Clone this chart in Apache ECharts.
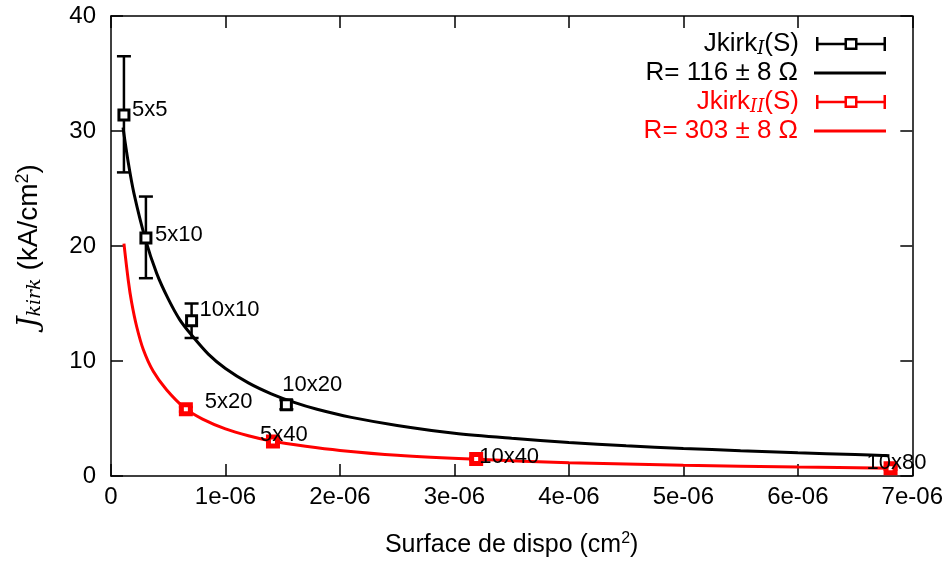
<!DOCTYPE html>
<html>
<head>
<meta charset="utf-8">
<script src="https://cdn.jsdelivr.net/npm/echarts@6/dist/echarts.min.js"></script>
<style>html,body{margin:0;padding:0;background:#fff}#c{width:946px;height:567px}</style>
</head>
<body>
<div id="c"></div>
<script>
// ---- data (surface in cm^2, J in kA/cm^2) ----
const xTickLabels = ['0', '1e-06', '2e-06', '3e-06', '4e-06', '5e-06', '6e-06', '7e-06'];

// measured devices, type I (black)
const surfI = [1.13e-7, 3.05e-7, 7.04e-7, 1.532e-6];
const jI = [31.4, 20.7, 13.5, 6.2];
const jILow = [26.4, 17.2, 12.0, 5.8];
const jIHigh = [36.5, 24.3, 15.0, 6.6];
const namesI = ['5x5', '5x10', '10x10', '10x20'];

// measured devices, type II (red)
const surfII = [6.54e-7, 1.415e-6, 3.19e-6, 6.81e-6];
const jII = [5.8, 3.0, 1.48, 0.67];
const jIILow = [5.6, 2.85, 1.35, 0.55];
const jIIHigh = [6.0, 3.15, 1.6, 0.8];
const namesII = ['5x20', '5x40', '10x40', '10x80'];

// fitted curve R = 116 ohm (black)
const fitIS = [1.05e-7, 1.5e-7, 2e-7, 3e-7, 4e-7, 5e-7, 6e-7, 7e-7, 8.5e-7, 1.0e-6, 1.2e-6, 1.4e-6, 1.6e-6, 1.8e-6, 2.1e-6, 2.5e-6, 3.0e-6, 3.5e-6, 4.0e-6, 4.5e-6, 5.0e-6, 5.5e-6, 6.0e-6, 6.5e-6, 6.8e-6];
const fitIJ = [30.3, 27.3, 24.6, 20.6, 17.6, 15.4, 13.6, 12.3, 10.6, 9.35, 8.1, 7.15, 6.4, 5.8, 5.1, 4.4, 3.72, 3.28, 2.92, 2.62, 2.4, 2.2, 2.02, 1.86, 1.76];

// fitted curve R = 303 ohm (red)
const fitIIS = [1.13e-7, 1.51e-7, 1.8e-7, 2.24e-7, 2.82e-7, 3.69e-7, 4.85e-7, 6.45e-7, 8e-7, 1.0e-6, 1.2e-6, 1.41e-6, 1.7e-6, 2.0e-6, 2.5e-6, 3.2e-6, 4.0e-6, 5.0e-6, 6.0e-6, 6.82e-6];
const fitIIJ = [20.2, 17.0, 15.1, 13.0, 11.0, 9.1, 7.5, 5.9, 4.95, 4.1, 3.5, 3.02, 2.58, 2.22, 1.8, 1.45, 1.16, 0.94, 0.78, 0.68];

// ---- presentation ----
const FONT = "'Liberation Sans', 'DejaVu Sans', sans-serif";
const labelOffsetsI = [[8, -5], [9, -3], [8, -11], [-4, -20]];
const labelOffsetsII = [[19, -7], [-13, -7], [3, -2], [-24, -5]];

const zip = (a, b) => a.map((v, i) => [v, b[i]]);

function pointData(xs, ys, names, offsets) {
  return xs.map((x, i) => ({
    value: [x, ys[i]],
    name: names[i],
    label: { offset: offsets[i] }
  }));
}

function errData(xs, lo, hi) {
  return xs.map((x, i) => [x, lo[i], hi[i]]);
}

function errRender(color, lw) {
  return function (params, api) {
    const x = api.value(0);
    const pLo = api.coord([x, api.value(1)]);
    const pHi = api.coord([x, api.value(2)]);
    const c = 7;
    const st = { stroke: color, lineWidth: lw };
    return {
      type: 'group',
      children: [
        { type: 'line', shape: { x1: pLo[0], y1: pLo[1], x2: pHi[0], y2: pHi[1] }, style: st },
        { type: 'line', shape: { x1: pLo[0] - c, y1: pLo[1], x2: pLo[0] + c, y2: pLo[1] }, style: st },
        { type: 'line', shape: { x1: pHi[0] - c, y1: pHi[1], x2: pHi[0] + c, y2: pHi[1] }, style: st }
      ]
    };
  };
}

const errIcon = 'path://M0 0H2.5V14H0Z M67.5 0H70V14H67.5Z M0 5.75H28.5V8.25H0Z M41.5 5.75H70V8.25H41.5Z M28.5 1H41.5V13H28.5Z M31 3.5V10.5H39V3.5Z';
const lineIcon = 'path://M0 0H70V3H0Z';

const richLegend = {
  s: { fontSize: 18, fontStyle: 'italic', fontFamily: "'DejaVu Serif', serif", padding: [10, 0, 0, 0] }
};

const legendNames = {
  JI: 'Jkirk{s|I}(S)',
  RI: 'R= 116 ± 8 Ω',
  JII: 'Jkirk{s|II}(S)',
  RII: 'R= 303 ± 8 Ω'
};

function mkLegend(name, top, color, icon) {
  return {
    data: [{ name: name, icon: icon, itemStyle: { color: color, borderWidth: 0 } }],
    right: 60,
    top: top,
    orient: 'vertical',
    align: 'right',
    padding: 0,
    itemWidth: 72,
    itemHeight: 14,
    selectedMode: false,
    formatter: n => legendNames[n],
    textStyle: { color: color, fontSize: 26, fontFamily: FONT, padding: [0, 11, 0, 0], rich: richLegend }
  };
}

const axisLineStyle = { color: '#000', width: 1.5 };

function mkAxis(pos, extra) {
  return Object.assign({
    type: 'value', position: pos,
    axisLine: { show: true, onZero: false, lineStyle: axisLineStyle },
    axisTick: { show: true, inside: true, length: 12, lineStyle: axisLineStyle },
    splitLine: { show: false }
  }, extra);
}

const option = {
  animation: false,
  backgroundColor: '#fff',
  grid: { left: 111, right: 32, top: 16, bottom: 91, containLabel: false },
  legend: [
    mkLegend('JI', 31, '#000', errIcon),
    mkLegend('RI', 60, '#000', lineIcon),
    mkLegend('JII', 89, '#ff0000', errIcon),
    mkLegend('RII', 118, '#ff0000', lineIcon)
  ],
  xAxis: [
    mkAxis('bottom', {
      min: 0, max: 7e-6, interval: 1e-6,
      axisLabel: {
        margin: 9, color: '#000', fontSize: 24, fontFamily: "'Liberation Sans Narrow', " + FONT,
        formatter: v => xTickLabels[Math.round(v / 1e-6)]
      },
      name: 'Surface de dispo (cm{sup|2})',
      nameLocation: 'middle', nameGap: 55,
      nameTextStyle: {
        color: '#000', fontSize: 25, fontFamily: FONT,
        rich: { sup: { fontSize: 16, fontFamily: FONT, padding: [0, 0, 12, 0] } }
      }
    }),
    mkAxis('top', { min: 0, max: 7e-6, interval: 1e-6, axisLabel: { show: false } })
  ],
  yAxis: [
    mkAxis('left', {
      min: 0, max: 40, interval: 10,
      axisLabel: { margin: 15, color: '#000', fontSize: 24, fontFamily: "'Liberation Sans Narrow', " + FONT },
      name: '{i|J}{sub|kirk} (kA/cm{sup|2})',
      nameLocation: 'middle', nameGap: 66, nameRotate: 90,
      nameTextStyle: {
        color: '#000', fontSize: 28, fontFamily: FONT,
        rich: {
          i: { fontSize: 28, fontStyle: 'italic', fontFamily: "'DejaVu Serif', serif" },
          sub: { fontSize: 19, fontStyle: 'italic', fontFamily: "'DejaVu Serif', serif", padding: [11, 0, 0, 0] },
          sup: { fontSize: 18, fontFamily: FONT, padding: [0, 0, 13, 0] }
        }
      }
    }),
    mkAxis('right', { min: 0, max: 40, interval: 10, axisLabel: { show: false } })
  ],
  series: [
    {
      name: 'RI', type: 'line', smooth: 0.3, symbol: 'none',
      data: zip(fitIS, fitIJ), z: 3,
      lineStyle: { color: '#000', width: 3 }, itemStyle: { color: '#000' }
    },
    {
      name: 'RII', type: 'line', smooth: 0.3, symbol: 'none',
      data: zip(fitIIS, fitIIJ), z: 3,
      lineStyle: { color: '#ff0000', width: 3 }, itemStyle: { color: '#ff0000' }
    },
    {
      name: 'JI', type: 'custom', renderItem: errRender('#000', 2.5),
      encode: { x: 0, y: [1, 2] }, data: errData(surfI, jILow, jIHigh), z: 4,
      itemStyle: { color: '#000' }
    },
    {
      name: 'JI', type: 'scatter', symbol: 'rect', symbolSize: 10, z: 5,
      itemStyle: { color: '#fff', borderColor: '#000', borderWidth: 3, opacity: 1 },
      data: pointData(surfI, jI, namesI, labelOffsetsI),
      label: {
        show: true, position: 'inside', align: 'left', verticalAlign: 'middle',
        formatter: p => p.name, color: '#000', fontSize: 22, fontFamily: FONT
      }
    },
    {
      name: 'JII', type: 'custom', renderItem: errRender('#ff0000', 2.5),
      encode: { x: 0, y: [1, 2] }, data: errData(surfII, jIILow, jIIHigh), z: 4,
      itemStyle: { color: '#ff0000' }
    },
    {
      name: 'JII', type: 'scatter', symbol: 'rect', symbolSize: 9, z: 5,
      itemStyle: { color: '#fff', borderColor: '#ff0000', borderWidth: 5, opacity: 1 },
      data: pointData(surfII, jII, namesII, labelOffsetsII),
      label: {
        show: true, position: 'inside', align: 'left', verticalAlign: 'middle',
        formatter: p => p.name, color: '#000', fontSize: 22, fontFamily: FONT
      }
    }
  ]
};

const chart = echarts.init(document.getElementById('c'), null, { renderer: 'canvas' });
chart.setOption(option);
</script>
</body>
</html>
